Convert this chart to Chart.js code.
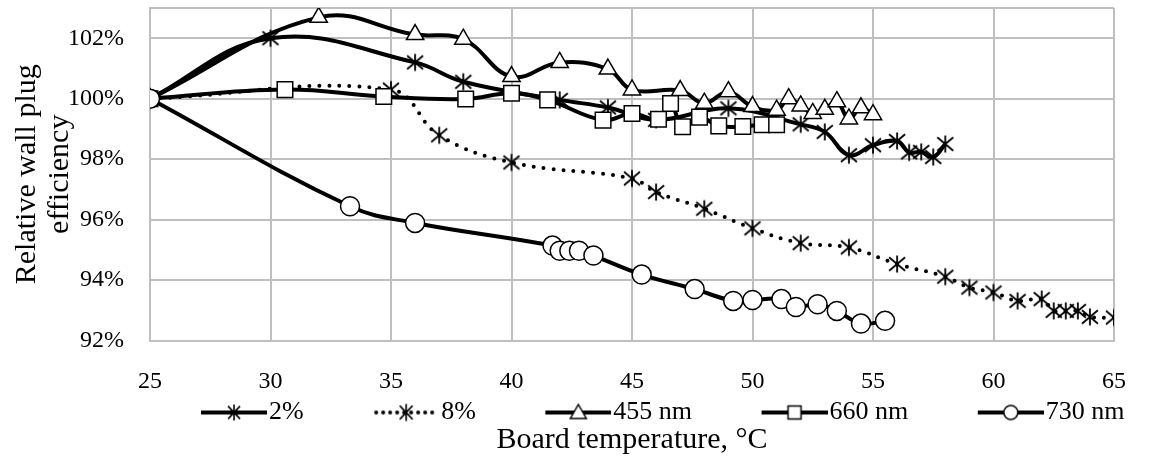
<!DOCTYPE html>
<html lang="en">
<head>
<meta charset="UTF-8">
<title>Relative wall plug efficiency vs board temperature</title>
<script src="https://cdn.jsdelivr.net/npm/chart.js"></script>
<style>
  html, body { margin: 0; padding: 0; background: #fff; }
  #wrap { width: 1153px; height: 460px; }
</style>
</head>
<body>
<div id="wrap"><canvas id="effChart"></canvas></div>
<script>
// board temperature (°C) / relative efficiency (%) for each series
const temp2 = [25, 30, 36, 38, 42, 44, 46, 49, 52, 53, 54, 55, 56, 56.5, 57, 57.5, 58];
const eff2 = [100, 102.0, 101.2, 100.56, 99.96, 99.71, 99.3, 99.68, 99.15, 98.9, 98.13, 98.46, 98.6, 98.22, 98.24, 98.07, 98.5];

const temp8 = [25, 35, 37, 40, 45, 46, 48, 50, 52, 54, 56, 58, 59, 60, 61, 62, 62.5, 63, 63.5, 64, 65];
const eff8 = [100, 100.3, 98.79, 97.89, 97.36, 96.91, 96.36, 95.71, 95.22, 95.08, 94.53, 94.11, 93.75, 93.59, 93.31, 93.37, 92.98, 92.98, 92.98, 92.78, 92.76];

const temp455 = [25, 32, 36, 38, 40, 42, 44, 45, 47, 48, 49, 50, 51, 51.5, 52, 52.5, 53, 53.5, 54, 54.5, 55];
const eff455 = [100, 102.69, 102.12, 101.97, 100.73, 101.2, 100.98, 100.29, 100.27, 99.85, 100.23, 99.74, 99.62, 100.0, 99.76, 99.51, 99.65, 99.9, 99.33, 99.7, 99.47];

const temp660 = [25, 30.6, 34.7, 38.1, 40, 41.5, 43.8, 45, 46.1, 46.6, 47.1, 47.8, 48.6, 49.6, 50.4, 51];
const eff660 = [100, 100.3, 100.07, 99.99, 100.18, 99.96, 99.29, 99.51, 99.32, 99.84, 99.07, 99.39, 99.1, 99.08, 99.14, 99.14];

const temp730 = [25, 33.3, 36, 41.7, 42, 42.4, 42.8, 43.4, 45.4, 47.6, 49.2, 50, 51.2, 51.8, 52.7, 53.5, 54.5, 55.5];
const eff730 = [100, 96.44, 95.89, 95.14, 94.97, 94.97, 94.97, 94.81, 94.18, 93.7, 93.31, 93.34, 93.37, 93.11, 93.2, 92.98, 92.56, 92.65];

const seriesNames = ['2%', '8%', '455 nm', '660 nm', '730 nm'];
const tempTicks = [25, 30, 35, 40, 45, 50, 55, 60, 65];
const effTicks = [92, 94, 96, 98, 100, 102];

const FONT = 'Liberation Serif, Times New Roman, serif';
const GRID = '#bfbfbf';
const LEG_BOX = 115;

function zip(xs, ys) {
    return xs.map((x, i) => ({ x: x, y: ys[i] }));
}

function drawAsterisk(g, cx, cy, hw, hh) {
    g.beginPath();
    g.moveTo(cx, cy - hh); g.lineTo(cx, cy + hh);
    g.moveTo(cx - hw, cy - hh * 0.8); g.lineTo(cx + hw, cy + hh * 0.8);
    g.moveTo(cx + hw, cy - hh * 0.8); g.lineTo(cx - hw, cy + hh * 0.8);
    g.stroke();
}

// asterisk marker used on the chart
const starImg = document.createElement('canvas');
starImg.width = 22; starImg.height = 22;
(function () {
    const g = starImg.getContext('2d');
    g.strokeStyle = '#000';
    g.lineWidth = 1.8;
    drawAsterisk(g, 11, 11, 8, 8.5);
})();

// legend sample: line + marker, drawn in the right 66px of the image
// (the blank left part gives the gap between legend entries)
function legendSample(kind, dotted) {
    const c = document.createElement('canvas');
    c.width = LEG_BOX + 22; c.height = 26;
    const g = c.getContext('2d');
    const x0 = c.width - 66, x1 = c.width, cy = 13, cx = (x0 + x1) / 2;
    g.strokeStyle = '#000';
    g.lineWidth = 4;
    if (dotted) {
        g.lineCap = 'round';
        g.setLineDash([0, 7]);
        g.beginPath(); g.moveTo(x0 + 3, cy); g.lineTo(x1 - 2, cy); g.stroke();
        g.setLineDash([]);
    } else {
        g.beginPath(); g.moveTo(x0, cy); g.lineTo(x1, cy); g.stroke();
    }
    g.lineWidth = 1.5;
    g.fillStyle = '#fff';
    if (kind === 'star') {
        g.lineWidth = 1.6;
        drawAsterisk(g, cx, cy, 6, 8);
    } else if (kind === 'triangle') {
        g.beginPath();
        g.moveTo(cx, cy - 8); g.lineTo(cx + 8, cy + 6); g.lineTo(cx - 8, cy + 6); g.closePath();
        g.fill(); g.stroke();
    } else if (kind === 'rect') {
        g.beginPath(); g.rect(cx - 6.5, cy - 6.5, 13, 13); g.fill(); g.stroke();
    } else {
        g.beginPath(); g.arc(cx, cy, 7, 0, Math.PI * 2); g.fill(); g.stroke();
    }
    return c;
}

const legendImgs = [
    legendSample('star', false),
    legendSample('star', true),
    legendSample('triangle', false),
    legendSample('rect', false),
    legendSample('circle', false)
];

function series(label, data, style, radius, order, dotted) {
    return {
        label: label,
        data: data,
        borderColor: '#000',
        borderWidth: 4,
        borderDash: dotted ? [0, 10] : [],
        borderCapStyle: dotted ? 'round' : 'butt',
        tension: 0.4,
        pointStyle: style,
        pointRadius: radius,
        pointBackgroundColor: '#fff',
        pointBorderColor: '#000',
        pointBorderWidth: 1.5,
        order: order
    };
}

const ctx = document.getElementById('effChart').getContext('2d');
new Chart(ctx, {
    type: 'line',
    data: {
        datasets: [
            series(seriesNames[0], zip(temp2, eff2), starImg, 9, 5, false),
            series(seriesNames[1], zip(temp8, eff8), starImg, 9, 4, true),
            series(seriesNames[2], zip(temp455, eff455), 'triangle', 10, 3, false),
            series(seriesNames[3], zip(temp660, eff660), 'rect', 11, 2, false),
            series(seriesNames[4], zip(temp730, eff730), 'circle', 9.5, 1, false)
        ]
    },
    options: {
        responsive: true,
        maintainAspectRatio: false,
        animation: false,
        layout: { autoPadding: false, padding: { top: 8, right: 19, bottom: 0, left: 0 } },
        plugins: {
            tooltip: { enabled: false },
            legend: {
                position: 'bottom',
                align: 'end',
                labels: {
                    usePointStyle: true,
                    pointStyleWidth: LEG_BOX,
                    padding: 9.5,
                    color: '#000',
                    font: { family: FONT, size: 26 },
                    generateLabels: chart => seriesNames.map((name, i) => ({
                        text: name,
                        pointStyle: legendImgs[i],
                        datasetIndex: i,
                        fillStyle: '#fff',
                        strokeStyle: '#000',
                        lineWidth: 0,
                        fontColor: '#000',
                        hidden: !chart.isDatasetVisible(i)
                    }))
                }
            },
            title: {
                display: true,
                position: 'bottom',
                fullSize: false,
                text: 'Board temperature, °C',
                color: '#000',
                font: { family: FONT, size: 30, weight: 'normal', lineHeight: 1 },
                padding: { top: -10.5, bottom: 5 }
            }
        },
        scales: {
            x: {
                type: 'linear',
                min: 25,
                max: 65,
                afterBuildTicks: s => { s.ticks = tempTicks.map(v => ({ value: v })); },
                afterFit: s => { s.height = 49.5; },
                ticks: {
                    color: '#000',
                    padding: 27,
                    maxRotation: 0,
                    font: { family: FONT, size: 24 },
                    callback: v => String(v)
                },
                grid: { color: GRID, lineWidth: 2, drawTicks: false },
                border: { color: GRID, width: 2 }
            },
            y: {
                min: 92,
                max: 103,
                afterBuildTicks: s => { s.ticks = effTicks.concat([103]).map(v => ({ value: v })); },
                afterFit: s => { s.width = 150; s.paddingTop = 0; s.paddingBottom = 0; },
                ticks: {
                    color: '#000',
                    padding: 26,
                    font: { family: FONT, size: 24 },
                    callback: v => effTicks.includes(v) ? v + '%' : ''
                },
                grid: { color: GRID, lineWidth: 2, drawTicks: false },
                border: { color: GRID, width: 2 },
                title: {
                    display: true,
                    text: ['Relative wall plug', 'efficiency'],
                    color: '#000',
                    font: { family: FONT, size: 30, lineHeight: 1.1 },
                    padding: { top: 10.5, bottom: 0 }
                }
            }
        }
    }
});
</script>
</body>
</html>
